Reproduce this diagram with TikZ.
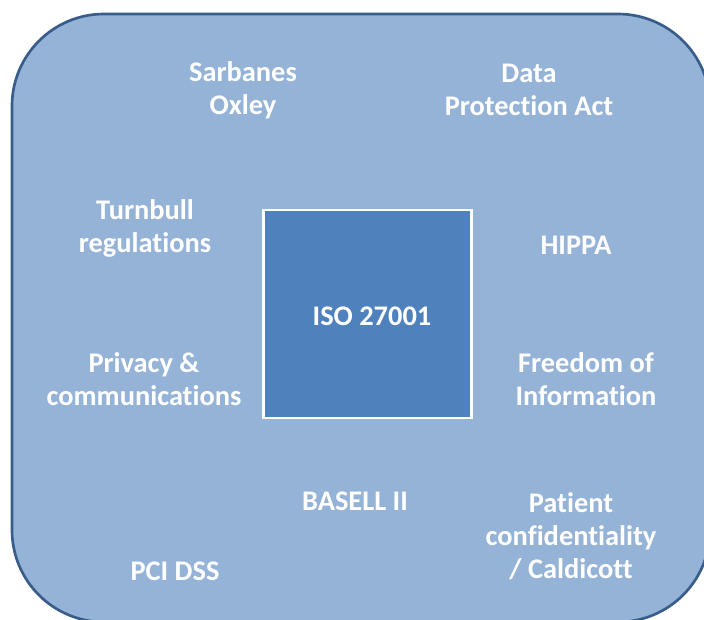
\documentclass[tikz,border=0pt]{standalone}
\usepackage{fontspec}
\setmainfont[Ligatures=NoCommon]{Carlito}
\definecolor{panelfill}{HTML}{95B3D7}
\definecolor{paneledge}{HTML}{385D8A}
\definecolor{corefill}{HTML}{4F81BD}
\tikzset{
  lbl/.style={text=white, font=\bfseries\fontsize{21.3}{24.75}\selectfont, align=center, inner sep=0pt},
}
\begin{document}
\begin{tikzpicture}[x=0.75pt, y=-0.75pt]
  \useasboundingbox (0,0) rectangle (704,619);
  \begin{scope}
    \clip (0,0) rectangle (704,619);
    \draw[fill=panelfill, draw=paneledge, line width=2pt, rounded corners=69pt]
      (12,14) rectangle (710,622);
  \end{scope}
  \node[draw=white, fill=corefill, line width=2.2pt, minimum width=156pt, minimum height=156pt, inner sep=0pt]
    (iso) at (367.5,314) {};
  \node[lbl] (isotxt) at (372,316) {ISO 27001};
  \node[lbl] (sox) at (243,90) {Sarbanes\\Oxley};
  \node[lbl] (dpa) at (529,90) {Data\\Protection Act};
  \node[lbl] (turn) at (145,228) {Turnbull\\regulations};
  \node[lbl] (hippa) at (576,245) {HIPPA};
  \node[lbl] (priv) at (144,379) {Privacy \&\\communications};
  \node[lbl] (foi) at (586,379) {Freedom of\\Information};
  \node[lbl] (basel) at (355,501) {BASELL II};
  \node[lbl] (pat) at (571,536) {Patient\\confidentiality\\/ Caldicott};
  \node[lbl] (pci) at (175,571) {PCI DSS};
\end{tikzpicture}
\end{document}
